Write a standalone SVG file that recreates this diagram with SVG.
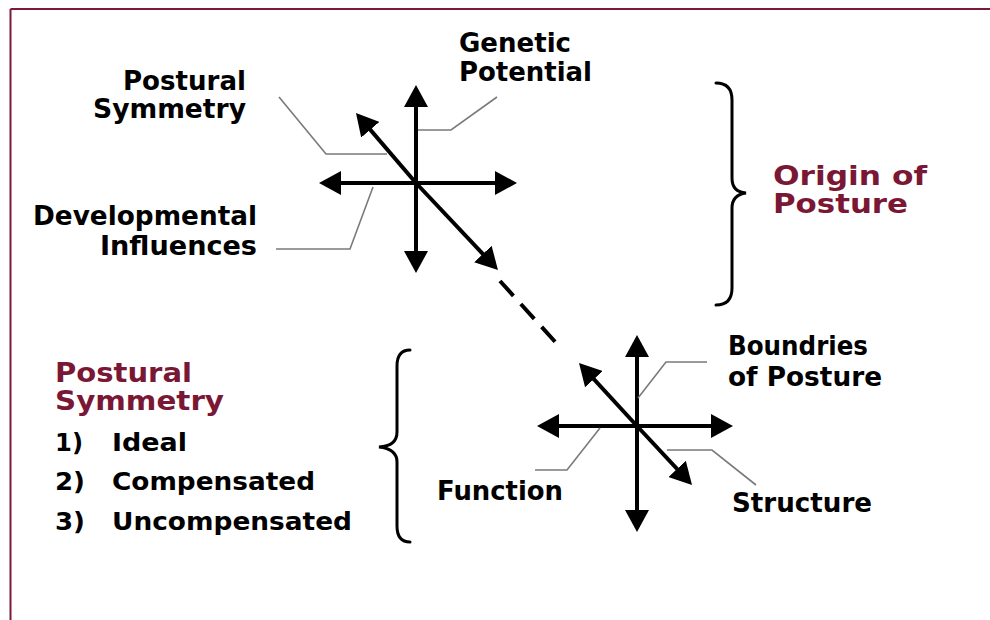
<svg xmlns="http://www.w3.org/2000/svg" width="990" height="620" viewBox="0 0 990 620">
<style>
.t{font-family:"DejaVu Sans","Liberation Sans",sans-serif;font-weight:bold;font-size:26px;fill:#000}
.r{fill:#7a1734;font-size:26px}
.s{font-size:25px}
.ax{stroke:#000;stroke-width:4;fill:none;marker-end:url(#ah)}
.ld{stroke:#7a7a7a;stroke-width:1.6;fill:none}
.br{stroke:#000;stroke-width:3;fill:none;stroke-linecap:round}
</style>
<defs>
<marker id="ah" viewBox="0 0 22 24" refX="12" refY="12" markerWidth="22" markerHeight="24" markerUnits="userSpaceOnUse" orient="auto">
<path d="M0,0 L22,12 L0,24 z" fill="#000"/>
</marker>
</defs>
<rect width="990" height="620" fill="#fff"/>
<g id="frame" stroke="#7b1a36" stroke-width="2" fill="none">
<line x1="10.5" y1="9" x2="990" y2="9"/>
<line x1="10.5" y1="9" x2="10.5" y2="620"/>
</g>
<g id="connectors">
<g id="cross-top">
<line class="ax" x1="416" y1="183" x2="416" y2="95"/>
<line class="ax" x1="416" y1="183" x2="416" y2="263"/>
<line class="ax" x1="416" y1="183" x2="329" y2="183"/>
<line class="ax" x1="416" y1="183" x2="507" y2="183"/>
<line class="ax" x1="416" y1="183" x2="362.5" y2="120.6"/>
<line class="ax" x1="416" y1="183" x2="491.1" y2="262.7"/>
</g>
<line id="dash" x1="500" y1="281" x2="558" y2="345" stroke="#000" stroke-width="4" stroke-dasharray="20,11"/>
<g id="cross-bottom">
<line class="ax" x1="637" y1="426" x2="637" y2="345"/>
<line class="ax" x1="637" y1="426" x2="637" y2="522"/>
<line class="ax" x1="637" y1="426" x2="547" y2="426"/>
<line class="ax" x1="637" y1="426" x2="723" y2="426"/>
<line class="ax" x1="637" y1="426" x2="585.8" y2="370.4"/>
<line class="ax" x1="637" y1="426" x2="685.2" y2="477.7"/>
</g>
<g id="leaders">
<polyline class="ld" points="279,97 326,154 387,154"/>
<polyline class="ld" points="497,97 451,130 418,130"/>
<polyline class="ld" points="276,249 350,249 373,187"/>
<polyline class="ld" points="707,362 666,362 638,398"/>
<polyline class="ld" points="535,470 567,470 600,428"/>
<polyline class="ld" points="667,450 712,450 756,485"/>
</g>
</g>
<g id="brace-origin"><path class="br" d="M716,83 Q732,83 732,100 L732,178 Q732,192 746,193 Q732,195 732,208 L732,288 Q732,305 716,305"/></g>
<g id="brace-symmetry"><path class="br" d="M410,350 Q397,350 397,366 L397,432 Q397,446 379,447 Q397,449 397,462 L397,526 Q397,542 410,542"/></g>
<g id="label-postural-symmetry">
<text class="t" x="246" y="90" text-anchor="end" textLength="123" lengthAdjust="spacingAndGlyphs">Postural</text>
<text class="t" x="246" y="118" text-anchor="end" textLength="153" lengthAdjust="spacingAndGlyphs">Symmetry</text>
</g>
<g id="label-genetic">
<text class="t" x="459" y="52" textLength="112" lengthAdjust="spacingAndGlyphs">Genetic</text>
<text class="t" x="459" y="81" textLength="133" lengthAdjust="spacingAndGlyphs">Potential</text>
</g>
<g id="label-developmental">
<text class="t" x="257" y="225" text-anchor="end" textLength="224" lengthAdjust="spacingAndGlyphs">Developmental</text>
<text class="t" x="257" y="255" text-anchor="end" textLength="157" lengthAdjust="spacingAndGlyphs">Influences</text>
</g>
<g id="label-origin">
<text class="t r" x="773" y="185" textLength="154" lengthAdjust="spacingAndGlyphs">Origin of</text>
<text class="t r" x="773" y="213" textLength="135" lengthAdjust="spacingAndGlyphs">Posture</text>
</g>
<g id="label-boundries">
<text class="t" x="728" y="355" textLength="140" lengthAdjust="spacingAndGlyphs">Boundries</text>
<text class="t" x="728" y="386" textLength="154" lengthAdjust="spacingAndGlyphs">of Posture</text>
</g>
<g id="label-function"><text class="t" x="437" y="500" textLength="126" lengthAdjust="spacingAndGlyphs">Function</text></g>
<g id="label-structure"><text class="t" x="732" y="512" textLength="140" lengthAdjust="spacingAndGlyphs">Structure</text></g>
<g id="label-symmetry-list">
<text class="t r" x="55" y="382" textLength="137" lengthAdjust="spacingAndGlyphs">Postural</text>
<text class="t r" x="55" y="410" textLength="169" lengthAdjust="spacingAndGlyphs">Symmetry</text>
<text class="t s" x="55" y="451" textLength="28" lengthAdjust="spacingAndGlyphs">1)</text>
<text class="t s" x="112" y="451" textLength="75" lengthAdjust="spacingAndGlyphs">Ideal</text>
<text class="t s" x="55" y="490" textLength="30" lengthAdjust="spacingAndGlyphs">2)</text>
<text class="t s" x="112" y="490" textLength="203" lengthAdjust="spacingAndGlyphs">Compensated</text>
<text class="t s" x="55" y="530" textLength="30" lengthAdjust="spacingAndGlyphs">3)</text>
<text class="t s" x="112" y="530" textLength="240" lengthAdjust="spacingAndGlyphs">Uncompensated</text>
</g>
</svg>
